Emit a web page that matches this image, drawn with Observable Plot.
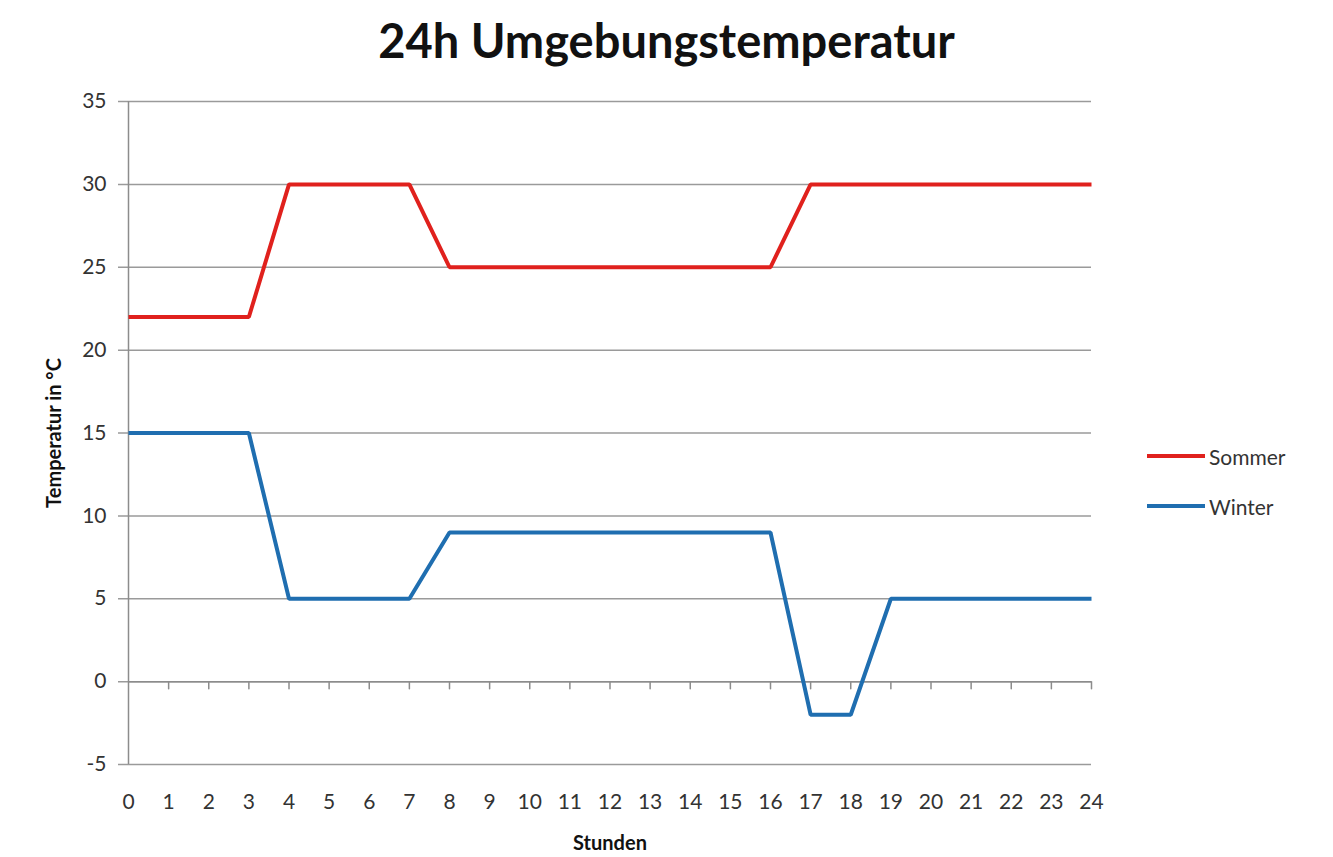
<!DOCTYPE html>
<html>
<head>
<meta charset="utf-8">
<script src="https://cdn.jsdelivr.net/npm/d3@7"></script>
<script src="https://cdn.jsdelivr.net/npm/@observablehq/plot@0.6"></script>
<style>
  html, body { margin: 0; padding: 0; background: #fff; }
  #wrap { position: relative; width: 1333px; height: 857px; font-family: Lato, "Open Sans", sans-serif; }
  #title { position: absolute; left: 0; top: 0; width: 1333px; height: 80px; text-align: center; font-weight: bold; font-size: 47px; line-height: 80px; color: #111; }
  #chart { position: absolute; left: 0; top: 80px; }
  #legend { position: absolute; left: 1147px; top: 431px; font-size: 21px; color: #333; }
  .item { display: flex; align-items: center; height: 50px; }
  .sw { width: 58px; height: 4px; margin-right: 4px; }
</style>
</head>
<body>
<div id="wrap">
  <div id="title">24h Umgebungstemperatur</div>
  <div id="chart"></div>
  <div id="legend"></div>
</div>
<script>
const hours = d3.range(0, 25);
const sommer = [22,22,22,22,30,30,30,30,25,25,25,25,25,25,25,25,25,30,30,30,30,30,30,30,30];
const winter = [15,15,15,15,5,5,5,5,9,9,9,9,9,9,9,9,9,-2,-2,5,5,5,5,5,5];
const seriesNames = ["Sommer", "Winter"];
const seriesColors = ["#e0211d", "#1f6eb0"];
const yTicks = [-5, 0, 5, 10, 15, 20, 25, 30, 35];

const data = [];
hours.forEach((h, i) => {
  data.push({hour: h, temp: sommer[i], series: "Sommer"});
  data.push({hour: h, temp: winter[i], series: "Winter"});
});

const tickShape = {
  draw(context, l) { context.moveTo(0, 0); context.lineTo(0, -l); }
};

const plot = Plot.plot({
  width: 1333,
  height: 777,
  marginLeft: 128,
  marginRight: 242,
  marginTop: 21,
  marginBottom: 93,
  style: { fontFamily: "Lato, 'Open Sans', sans-serif", fontSize: "21px", color: "#333", background: "transparent" },
  x: { domain: [0, 24] },
  y: { domain: [-5, 35] },
  color: { domain: seriesNames, range: seriesColors },
  marks: [
    Plot.gridY(yTicks, { stroke: "#9a9a9a", strokeOpacity: 1, strokeWidth: 1.5, insetLeft: -10 }),
    Plot.ruleX([0], { stroke: "#8c8c8c", strokeWidth: 1.5 }),
    Plot.ruleY([0], { stroke: "#8c8c8c", strokeWidth: 1.5 }),
    Plot.vector(hours.slice(1), { x: d => d, y: 0, length: 7, rotate: 180, anchor: "start", shape: tickShape, stroke: "#8c8c8c", strokeWidth: 1.5 }),
    Plot.axisY(yTicks, { tickSize: 0, tickPadding: 22, fontSize: 21, tickFormat: d => String(d), label: "Temperatur in °C", labelArrow: false, labelAnchor: "center", labelOffset: 82 }),
    Plot.axisX(hours, { tickSize: 0, tickPadding: 30, fontSize: 21, label: "Stunden", labelArrow: false, labelAnchor: "center", labelOffset: 85, tickFormat: d => String(d) }),
    Plot.line(data, { x: "hour", y: "temp", z: "series", stroke: "series", strokeWidth: 4, strokeLinejoin: "miter", strokeLinecap: "butt" })
  ]
});
d3.select(plot).selectAll("[aria-label='y-axis label'], [aria-label='x-axis label']").attr("font-weight", "bold").attr("font-size", 20).attr("fill", "#111");
document.getElementById("chart").appendChild(plot);

const legend = document.getElementById("legend");
seriesNames.forEach((name, i) => {
  const item = document.createElement("div");
  item.className = "item";
  item.innerHTML = `<div class="sw" style="background:${seriesColors[i]}"></div><span>${name}</span>`;
  legend.appendChild(item);
});
</script>
</body>
</html>
